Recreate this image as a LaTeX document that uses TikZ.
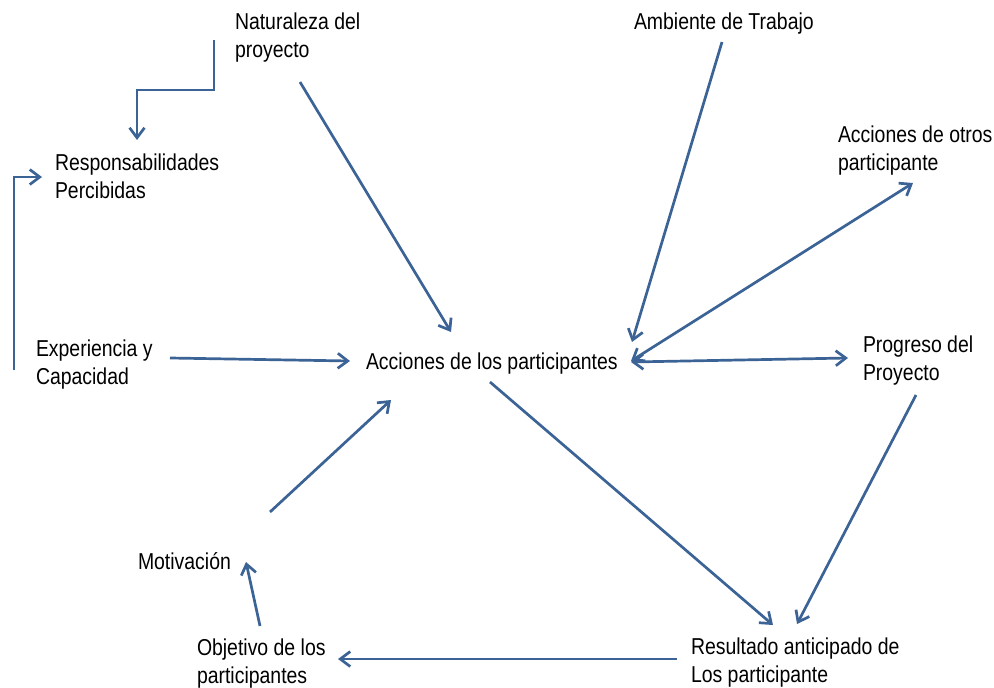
\documentclass[tikz,border=0pt]{standalone}
\usepackage{fontspec}
\setmainfont[FakeStretch=0.845]{Liberation Sans}
\usetikzlibrary{arrows.meta}
\definecolor{linkblue}{HTML}{3B6396}
\tikzset{
  label/.style={anchor=north west, inner sep=0pt, outer sep=0pt, align=left,
    font=\fontsize{23}{27.5}\selectfont, text=black},
  barb/.tip={Straight Barb[length=10pt,width=15pt,line width=2.7pt]},
  link/.style={draw=linkblue, line width=2.7pt, line join=miter, -barb},
  twoway/.style={link, barb-barb}
}
\begin{document}
\begin{tikzpicture}[x=1pt,y=-1pt]
\useasboundingbox (0,0) rectangle (994,688);

% text labels
\node[label] (nat)  at (235,13)  {Naturaleza del\\proyecto};
\node[label] (amb)  at (634,13)  {Ambiente de Trabajo};
\node[label] (otros) at (838,126) {Acciones de otros\\participante};
\node[label] (resp) at (55,154)  {Responsabilidades\\Percibidas};
\node[label] (exp)  at (36,340)  {Experiencia y\\Capacidad};
\node[label] (acc)  at (366,353) {Acciones de los participantes};
\node[label] (prog) at (863,336) {Progreso del\\Proyecto};
\node[label] (mot)  at (138,553) {Motivación};
\node[label] (obj)  at (197,639) {Objetivo de los\\participantes};
\node[label] (res)  at (691,638) {Resultado anticipado de\\Los participante};

% connector end points
\coordinate (natA) at (214,40);
\coordinate (respA) at (137,140);
\coordinate (expA) at (14,370);
\coordinate (respB) at (42,177);
\coordinate (natB) at (300,82);
\coordinate (accN) at (451,332);
\coordinate (ambB) at (722,42);
\coordinate (accNE) at (632,342);
\coordinate (accE1) at (631,361);
\coordinate (otrosB) at (913,183);
\coordinate (accE2) at (631,362);
\coordinate (progW) at (848,358);
\coordinate (expE) at (170,358);
\coordinate (accW) at (350,361);
\coordinate (accS) at (490,382);
\coordinate (resN1) at (773,625);
\coordinate (progS) at (916,395);
\coordinate (resN2) at (797,624);
\coordinate (motE) at (270,512);
\coordinate (accSW) at (391,400);
\coordinate (objN) at (260,626);
\coordinate (motS) at (246,562);
\coordinate (resW) at (677,659);
\coordinate (objE) at (338,659);

% connectors
\draw[link] (natA) -- (214,90) -- (137,90) -- (respA);
\draw[link] (expA) -- (14,177) -- (respB);
\draw[link] (natB) -- (accN);
\draw[link] (ambB) -- (accNE);
\draw[twoway] (accE1) -- (otrosB);
\draw[twoway] (accE2) -- (progW);
\draw[link] (expE) -- (accW);
\draw[link] (accS) -- (resN1);
\draw[link] (progS) -- (resN2);
\draw[link] (motE) -- (accSW);
\draw[link] (objN) -- (motS);
\draw[link] (resW) -- (objE);
\end{tikzpicture}
\end{document}
